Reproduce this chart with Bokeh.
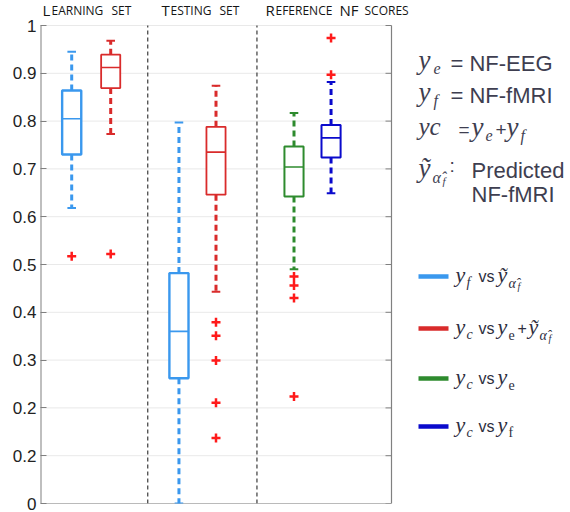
from bokeh.plotting import figure
from bokeh.models import Range1d, FixedTicker
from bokeh.core.properties import value
from bokeh.embed import file_html
from bokeh.resources import INLINE

# ---------------- data ----------------
groups = ["Learning set", "Testing set", "Reference NF scores"]
series = ["yf vs ~y", "yc vs ye + ~y", "yc vs ye", "yc vs yf"]
box_series = [0, 1, 0, 1, 2, 3]          # which series each box belongs to
whisker_low = [0.618, 0.773, 0.0, 0.443, 0.490, 0.649]
q1 = [0.730, 0.869, 0.262, 0.646, 0.642, 0.724]
median = [0.805, 0.912, 0.360, 0.735, 0.704, 0.765]
q3 = [0.864, 0.939, 0.482, 0.788, 0.747, 0.792]
whisker_high = [0.945, 0.968, 0.797, 0.874, 0.817, 0.882]
outliers = [[0.517], [0.522], [], [0.379, 0.351, 0.299, 0.211, 0.137],
            [0.475, 0.456, 0.430, 0.224], [0.974, 0.897]]
tick_values = [0.0, 0.1, 0.2, 0.3, 0.4, 0.5, 0.6, 0.7, 0.8, 0.9, 1.0]
tick_labels = ["0", "0.2", "0.2", "0.3", "0.4", "0.5", "0.6", "0.7", "0.8", "0.9", "1"]

# ---------------- layout ----------------
positions = [0.8, 1.8, 3.55, 4.5, 6.5, 7.45]
separators = [2.75, 5.55]
X_END = 9.0                         # right edge of the plotting box
series_colors = ["#3A98EE", "#D92B2B", "#2E8B2E", "#0A0ACC"]
box_widths = [2.4, 1.8, 2.4, 1.8, 2.0, 2.0]
box_w = 0.49
cap_w = 0.22

TOTAL_W = 568
HEAD_PX = 25                        # header band above the value 1
P_LEFT, PLOT_W_PX, PLOT_PX, P_BOTTOM = 40, 351, 478, 9
FRAME_W = TOTAL_W - P_LEFT
FRAME_H = PLOT_PX + HEAD_PX
PX_PER_X = PLOT_W_PX / X_END
X_MAX = FRAME_W / PX_PER_X
Y_TOP = 1 + HEAD_PX / PLOT_PX

p = figure(frame_width=FRAME_W, frame_height=FRAME_H, x_range=Range1d(0, X_MAX),
           y_range=Range1d(0, Y_TOP), output_backend="svg", toolbar_location=None,
           min_border_left=P_LEFT, min_border_right=0, min_border_top=0,
           min_border_bottom=P_BOTTOM)
p.outline_line_color = None
p.grid.visible = False
p.xaxis.visible = False

ya = p.yaxis[0]
ya.ticker = FixedTicker(ticks=tick_values)
ya.major_label_overrides = {v: s for v, s in zip(tick_values, tick_labels)}
ya.axis_line_color = None
ya.major_tick_line_color = "#808080"
ya.major_tick_in = 6
ya.major_tick_out = 0
ya.minor_tick_line_color = None
ya.major_label_text_font = "Liberation Sans"
ya.major_label_text_font_size = "17px"
ya.major_label_text_color = "#222222"
ya.major_label_standoff = 4

n = len(tick_values)
# horizontal grid lines across the plotting box
p.segment(x0=[0] * n, x1=[X_END] * n, y0=tick_values, y1=tick_values,
          line_color="#E9E9E9", line_width=1)
# inward ticks on the right edge
tick_len = 6 / PX_PER_X
p.segment(x0=[X_END - tick_len] * n, x1=[X_END] * n, y0=tick_values, y1=tick_values,
          line_color="#808080", line_width=1)
# box frame: left, right, bottom lines
lo, hi = tick_values[0], tick_values[-1]
p.segment(x0=[0, X_END, 0], x1=[0, X_END, X_END], y0=[lo, lo, lo], y1=[hi, hi, lo],
          line_color="#808080", line_width=[2, 1.2, 1.2])
# group separators
p.segment(x0=separators, x1=separators, y0=[lo] * 2, y1=[hi] * 2,
          line_color="#3A3A3A", line_dash="4 3", line_width=1.2)

colors = [series_colors[k] for k in box_series]

# whiskers
p.segment(x0=positions, x1=positions, y0=q3, y1=whisker_high, line_color=colors,
          line_width=3, line_dash="6 4")
p.segment(x0=positions, x1=positions, y0=q1, y1=whisker_low, line_color=colors,
          line_width=3, line_dash="6 4")
# caps
p.segment(x0=[x - cap_w / 2 for x in positions], x1=[x + cap_w / 2 for x in positions],
          y0=whisker_high, y1=whisker_high, line_color=colors, line_width=2)
p.segment(x0=[x - cap_w / 2 for x in positions], x1=[x + cap_w / 2 for x in positions],
          y0=whisker_low, y1=whisker_low, line_color=colors, line_width=2)
# boxes
p.vbar(x=positions, width=box_w, bottom=q1, top=q3, fill_color="white",
       line_color=colors, line_width=box_widths)
# medians
p.segment(x0=[x - box_w / 2 for x in positions], x1=[x + box_w / 2 for x in positions],
          y0=median, y1=median, line_color=colors, line_width=1.6)
# outliers
ox, oy = [], []
for x, vals in zip(positions, outliers):
    for v in vals:
        ox.append(x)
        oy.append(v)
p.scatter(ox, oy, marker="cross", size=9, line_width=2.5, line_color="#FF1A1A")


# ---------------- texts (positions given in picture pixels) ----------------
def gx(px):
    return (px - P_LEFT) / PX_PER_X


def gy(py):
    return (HEAD_PX + PLOT_PX - py) / PLOT_PX


def txt(t, px, py, size, font="Open Sans", style="normal", color="#222222"):
    p.text(x=[gx(px)], y=[gy(py)], text=[t], text_font=value(font),
           text_font_size=value(f"{size}px"), text_font_style=value(style), text_color=color,
           text_baseline=value("middle"), text_align=value("left"))


# headers (small caps)
hc = "#151515"
BIG, SMALL = 15, 12
header_parts = [("L", 42, BIG), ("EARNING", 51, SMALL), ("SET", 111, SMALL),
                ("T", 161, BIG), ("ESTING", 170, SMALL), ("SET", 219, SMALL),
                ("R", 265, BIG), ("EFERENCE", 275, SMALL), ("NF", 339, BIG), ("SCORES", 364, SMALL)]
for t, x, sz in header_parts:
    txt(t, x, 9 if sz == BIG else 10, sz, color=hc)

# right-side definitions
tc = "#3E3E50"
serif = "Liberation Serif"
sans = "Liberation Sans"
Y, SUB, S = 27, 16, 22
txt("y", 418, 59, Y, serif, "italic", tc); txt("e", 433, 68, SUB, serif, "italic", tc)
txt("= NF-EEG", 450, 63, S, sans, color=tc)
txt("y", 418, 91, Y, serif, "italic", tc); txt("f", 433, 100, SUB, serif, "italic", tc)
txt("= NF-fMRI", 450, 95, S, sans, color=tc)
txt("yc", 418, 126, 25, serif, "italic", tc)
txt("=", 458, 129, 19, sans, color=tc)
txt("y", 471, 126, Y, serif, "italic", tc); txt("e", 485, 135, SUB, serif, "italic", tc)
txt("+", 495, 129, 19, sans, color=tc)
txt("y", 506, 126, Y, serif, "italic", tc); txt("f", 520, 135, SUB, serif, "italic", tc)
txt("\u1ef9", 418, 167, Y, serif, "italic", tc)
txt("\u03b1\u0302", 432, 177, SUB, serif, "italic", tc); txt("f", 442, 180, 11, serif, "italic", tc)
txt(":", 449, 165, 19, sans, color=tc)
txt("Predicted", 471, 170, S, sans, color=tc)
txt("NF-fMRI", 471, 194, S, sans, color=tc)

# legend
lc = "#2E2E3E"
leg_y = [276, 328, 378, 426]
p.segment(x0=[gx(418)] * 4, x1=[gx(448)] * 4, y0=[gy(v) for v in leg_y], y1=[gy(v) for v in leg_y],
          line_color=series_colors, line_width=4.5)


def yterm(rx, ry, sub, sub_style="italic", tilde=False):
    txt("\u1ef9" if tilde else "y", rx, ry - 2, 22, serif, "italic", lc)
    if tilde:
        txt("\u03b1\u0302", rx + 11, ry + 7, 14, serif, "italic", lc)
        txt("f", rx + 20, ry + 10, 10, serif, "italic", lc)
    else:
        txt(sub, rx + 11, ry + 6, 14, serif, sub_style, lc)


VS = 478
yterm(455, leg_y[0], "f"); txt("vs", VS, leg_y[0], 16, sans, color=lc); yterm(497, leg_y[0], "", tilde=True)
yterm(455, leg_y[1], "c"); txt("vs", VS, leg_y[1], 16, sans, color=lc); yterm(497, leg_y[1], "e", "normal")
txt("+", 517, leg_y[1] - 1, 16, sans, color=lc); yterm(528, leg_y[1], "", tilde=True)
yterm(455, leg_y[2], "c"); txt("vs", VS, leg_y[2], 16, sans, color=lc); yterm(497, leg_y[2], "e", "normal")
yterm(455, leg_y[3], "c"); txt("vs", VS, leg_y[3], 16, sans, color=lc); yterm(497, leg_y[3], "f", "normal")

open("out.html", "w").write(file_html(p, INLINE))
